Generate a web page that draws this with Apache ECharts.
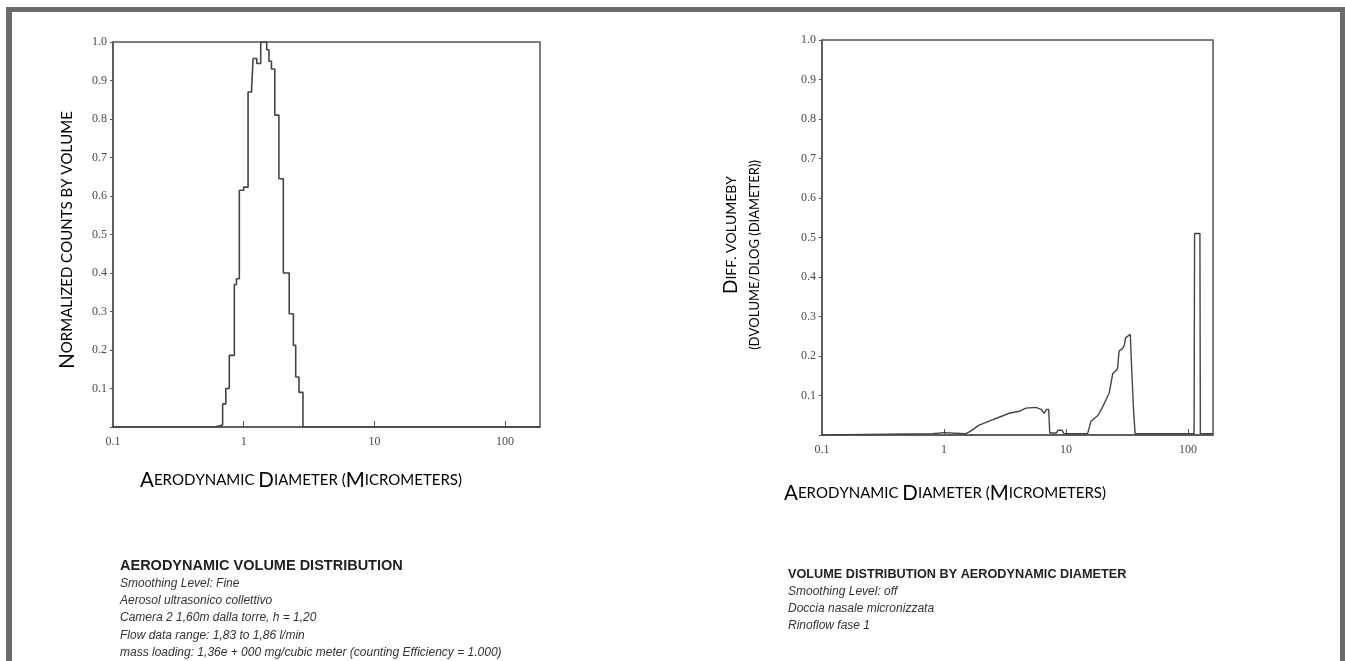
<!DOCTYPE html>
<html><head><meta charset="utf-8">
<script src="https://cdn.jsdelivr.net/npm/echarts@6/dist/echarts.min.js"></script>
<style>html,body{margin:0;padding:0;background:#fff}#c{width:1345px;height:661px}</style>
</head><body><div id="c"></div>
<script>
// ---- data ----
// left: normalized counts by volume, step histogram (value holds from x[i] to x[i+1])
const leftX = [0.1, 0.60, 0.69, 0.73, 0.776, 0.848, 0.88, 0.926, 1.0, 1.08, 1.15, 1.18, 1.26, 1.35, 1.50, 1.56, 1.63, 1.73, 1.86, 2.01, 2.23, 2.40, 2.50, 2.65, 2.84, 185];
const leftY = [0, 0.005, 0.06, 0.10, 0.186, 0.37, 0.385, 0.615, 0.623, 0.87, 0.88, 0.957, 0.944, 1.0, 0.98, 0.95, 0.93, 0.81, 0.645, 0.40, 0.294, 0.212, 0.13, 0.09, 0, 0];
// right: diff. volume by dvolume/dlog(diameter)
const rightX = [0.1, 0.8, 1.0, 1.5, 1.65, 1.94, 2.34, 2.83, 3.42, 4.13, 4.69, 5.67, 6.23, 6.64, 6.9, 7.2, 7.35, 8.3, 8.6, 9.3, 9.6, 15.0, 16.0, 18.3, 20.1, 21.3, 22.6, 24.1, 26.4, 27.2, 28.9, 30.0, 30.7, 33.6, 34.6, 35.7, 36.8, 112, 113, 125, 126, 160];
const rightY = [0, 0.003, 0.006, 0.003, 0.01, 0.025, 0.035, 0.045, 0.055, 0.06, 0.068, 0.07, 0.065, 0.055, 0.065, 0.065, 0.005, 0.005, 0.012, 0.012, 0.003, 0.003, 0.035, 0.05, 0.073, 0.09, 0.107, 0.155, 0.167, 0.213, 0.218, 0.226, 0.246, 0.255, 0.158, 0.065, 0.003, 0.003, 0.51, 0.51, 0.003, 0.003];
const xTickValues = [0.1, 1, 10, 100];
const xTickLabels = ['0.1', '1', '10', '100'];
const yTickLabels = ['0.1', '0.2', '0.3', '0.4', '0.5', '0.6', '0.7', '0.8', '0.9', '1.0'];

const leftInfo = ['Smoothing Level: Fine', 'Aerosol ultrasonico collettivo', 'Camera 2 1,60m dalla torre, h = 1,20', 'Flow data range: 1,83 to 1,86 l/min', 'mass loading: 1,36e + 000 mg/cubic meter (counting Efficiency = 1.000)'];
const rightInfo = ['Smoothing Level: off', 'Doccia nasale micronizzata', 'Rinoflow fase 1'];

// ---- styling helpers ----
const AX = '#555';
const tickFont = {color: '#4a4a4a', fontFamily: 'Liberation Serif', fontSize: 12};
function xLabel(v) {
  for (let i = 0; i < xTickValues.length; i++) {
    if (Math.abs(Math.log10(v) - Math.log10(xTickValues[i])) < 1e-6) return xTickLabels[i];
  }
  return '';
}
function yLabel(v) {
  const i = Math.round(v * 10) - 1;
  return (i >= 0 && i < yTickLabels.length && Math.abs(v * 10 - Math.round(v * 10)) < 1e-6) ? yTickLabels[i] : '';
}
function xAxis(grid, max) {
  return {
    type: 'log', logBase: 10, gridIndex: grid, min: 0.1, max: max,
    axisLine: {lineStyle: {color: AX, width: 1.5}},
    axisTick: {inside: true, length: 6, lineStyle: {color: AX}},
    axisLabel: Object.assign({formatter: xLabel, margin: 9, showMaxLabel: false}, tickFont),
    splitLine: {show: false}
  };
}
function yAxis(grid) {
  return {
    type: 'value', gridIndex: grid, min: 0, max: 1, interval: 0.1,
    axisLine: {show: true, lineStyle: {color: AX, width: 1.5}},
    axisTick: {show: true, inside: false, length: 3, lineStyle: {color: AX}},
    axisLabel: Object.assign({formatter: yLabel, margin: 6}, tickFont),
    splitLine: {show: false}
  };
}
function makeRich(big, small) {
  return {
    b: {fontFamily: 'Lato', fontSize: big, color: '#222'},
    s: {fontFamily: 'Lato', fontSize: small, color: '#222'}
  };
}
function smallCaps(str) {
  return str.split(' ').map(w => {
    let out = '';
    for (const ch of w) {
      if (ch >= 'A' && ch <= 'Z') out += '{b|' + ch + '}';
      else out += '{s|' + ch.toUpperCase() + '}';
    }
    return out;
  }).join('{s| }');
}
function capText(x, y, str, rot, big, small) {
  return {type: 'text', x: x, y: y, rotation: rot || 0,
    style: {text: smallCaps(str), rich: makeRich(big, small), align: 'center', verticalAlign: 'middle'}};
}
function infoBlock(x, y, title, titleSize, lines) {
  const els = [{type: 'text', x: x, y: y, style: {text: title, fontFamily: 'Liberation Sans', fontWeight: 'bold', fontSize: titleSize, fill: '#222', verticalAlign: 'middle'}}];
  lines.forEach((l, i) => els.push({type: 'text', x: x, y: y + 17.3 * (i + 1),
    style: {text: l, fontFamily: 'Liberation Sans', fontStyle: 'italic', fontSize: 12, fill: '#333', verticalAlign: 'middle'}}));
  return els;
}

const chart = echarts.init(document.getElementById('c'), null, {renderer: 'canvas'});
chart.setOption({
  backgroundColor: '#fff',
  animation: false,
  grid: [
    {left: 113, top: 42, width: 427, height: 385, show: true, borderColor: AX, borderWidth: 1.5},
    {left: 822, top: 40, width: 391, height: 395, show: true, borderColor: AX, borderWidth: 1.5}
  ],
  xAxis: [xAxis(0, 185), xAxis(1, 160)],
  yAxis: [yAxis(0), yAxis(1)],
  series: [
    {type: 'line', xAxisIndex: 0, yAxisIndex: 0, step: 'end', showSymbol: false,
      lineStyle: {color: '#444', width: 1.6}, data: leftX.map((x, i) => [x, leftY[i]])},
    {type: 'line', xAxisIndex: 1, yAxisIndex: 1, showSymbol: false,
      lineStyle: {color: '#444', width: 1.4}, data: rightX.map((x, i) => [x, rightY[i]])}
  ],
  graphic: [
    {type: 'rect', shape: {x: 6, y: 7, width: 1339, height: 5}, style: {fill: '#6b6b6b'}},
    {type: 'rect', shape: {x: 6, y: 7, width: 6, height: 654}, style: {fill: '#6b6b6b'}},
    {type: 'rect', shape: {x: 1340, y: 7, width: 5, height: 654}, style: {fill: '#6b6b6b'}},
    capText(67, 240, 'Normalized counts by volume', Math.PI / 2, 20.5, 15),
    capText(301, 480, 'Aerodynamic Diameter (Micrometers)', 0, 20.5, 15),
    capText(731, 235, 'Diff. volumeby', Math.PI / 2, 19, 14),
    capText(755, 255, '(dvolume/dlog (diameter))', Math.PI / 2, 17.5, 13),
    capText(945, 493, 'Aerodynamic Diameter (Micrometers)', 0, 20.5, 15)
  ].concat(infoBlock(120, 566, 'AERODYNAMIC VOLUME DISTRIBUTION', 14.5, leftInfo))
   .concat(infoBlock(788, 574, 'VOLUME DISTRIBUTION BY AERODYNAMIC DIAMETER', 12.7, rightInfo))
});
</script>
</body></html>
